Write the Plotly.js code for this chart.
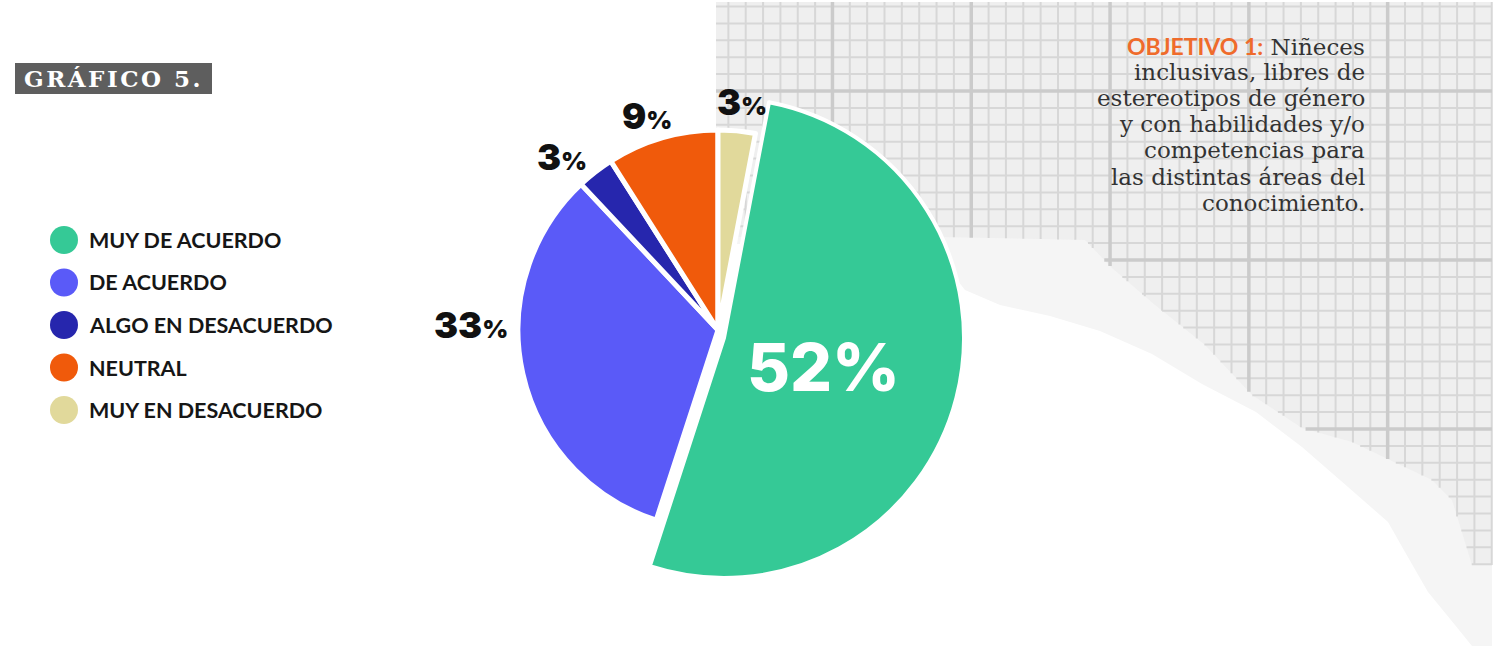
<!DOCTYPE html>
<html><head><meta charset="utf-8">
<script src="https://cdn.plot.ly/plotly-3.0.1.min.js"></script>
<style>html,body{margin:0;padding:0;background:#fff}#chart{width:1500px;height:646px}</style>
</head><body><div id="chart"></div>
<script>
// ---- data ----
const categories = ["MUY DE ACUERDO", "DE ACUERDO", "ALGO EN DESACUERDO", "NEUTRAL", "MUY EN DESACUERDO"];
const percentages = [52, 33, 3, 9, 3];
const sliceColors = ["#35c996", "#5a5af8", "#2626ad", "#f05a0b", "#e1d99b"];
const chartTitle = "GRÁFICO 5.";
const objectiveLabel = "OBJETIVO 1:";
const objectiveLines = ["Niñeces", "inclusivas, libres de", "estereotipos de género", "y con habilidades y/o", "competencias para", "las distintas áreas del", "conocimiento."];
const highlightIndex = 0;

// ---- layout helpers (positions, not data) ----
const W = 1500, H = 646;
const px = x => x / W, py = y => 1 - y / H;
const total = percentages.reduce((a, b) => a + b, 0);
const rotation = percentages[percentages.length - 1] / total * 360;
const labelAnchors = [[823, 367], [471, 325], [562, 157], [647, 116], [742, 102]];

// ---- background torn grid paper ----
const paperPoly = [[716,2],[1492,2],[1492,646],[1472,646],[1455,625],[1428,592],[1405,552],[1388,522],[1348,487],[1302,447],[1256,412],[1202,384],[1152,354],[1100,331],[1050,316],[1000,305],[965,290],[940,258],[900,244],[716,244]];
const gridPoly = [[716,2],[1492,2],[1492,565],[1472,565],[1452,500],[1432,480],[1352,442],[1302,428],[1252,395],[1205,345],[1155,305],[1112,268],[1085,240],[940,237],[716,237]];
function polyPath(poly){ return poly.map((p,i)=>(i?'L':'M')+px(p[0]).toFixed(5)+','+py(p[1]).toFixed(5)).join(' ')+' Z'; }
function clip(poly, vertical, c){
  const hits=[];
  for(let i=0;i<poly.length;i++){
    const p=poly[i], q=poly[(i+1)%poly.length];
    const pc=vertical?p[0]:p[1], qc=vertical?q[0]:q[1];
    if((pc<=c&&qc>c)||(qc<=c&&pc>c)){
      const t=(c-pc)/(qc-pc);
      hits.push(vertical? p[1]+t*(q[1]-p[1]) : p[0]+t*(q[0]-p[0]));
    }
  }
  hits.sort((a,b)=>a-b);
  const segs=[]; for(let i=0;i+1<hits.length;i+=2) segs.push([hits[i],hits[i+1]]);
  return segs;
}
let minorPath='', majorPath='';
for(let k=0;;k++){
  const x=711+k*17.35; if(x>1492) break;
  clip(gridPoly,true,x).forEach(s=>{ const d='M'+px(x).toFixed(5)+','+py(s[0]).toFixed(5)+' L'+px(x).toFixed(5)+','+py(s[1]).toFixed(5)+' ';
    if(k%8===7) majorPath+=d; else minorPath+=d; });
}
for(let k=0;;k++){
  const y=6.5+k*16.9; if(y>646) break;
  clip(gridPoly,false,y).forEach(s=>{ const d='M'+px(s[0]).toFixed(5)+','+py(y).toFixed(5)+' L'+px(s[1]).toFixed(5)+','+py(y).toFixed(5)+' ';
    if(k%10===5) majorPath+=d; else minorPath+=d; });
}

const shapes = [
  {type:'path', xref:'paper', yref:'paper', layer:'below', path:polyPath(paperPoly), fillcolor:'#f5f5f5', line:{width:0}},
  {type:'path', xref:'paper', yref:'paper', layer:'below', path:polyPath(gridPoly), fillcolor:'#efefef', line:{width:0}},
  {type:'path', xref:'paper', yref:'paper', layer:'below', path:minorPath, line:{color:'#d7d7d7', width:2}},
  {type:'path', xref:'paper', yref:'paper', layer:'below', path:majorPath, line:{color:'#cbcbcb', width:3.5}},
  {type:'rect', xref:'paper', yref:'paper', layer:'below', x0:px(15), x1:px(212), y0:py(94), y1:py(63), fillcolor:'#5e5e5e', line:{width:0}}
];

const annotations = [
  {xref:'paper', yref:'paper', x:px(113.5), y:py(79), xanchor:'center', yanchor:'middle', showarrow:false,
   text:'<b><span style="letter-spacing:2.5px">'+chartTitle+'</span></b>', font:{family:'DejaVu Serif', size:23, color:'#ffffff'}}
];
// objective text, right aligned, one annotation per line
objectiveLines.forEach((line,i)=>{
  const txt = i===0 ? '<span style="font-family:Lato;font-weight:bold;font-size:23px;color:#ef6b2b">'+objectiveLabel+'</span> '+line : line;
  annotations.push({xref:'paper', yref:'paper', x:px(1367), y:py(46+26.1*i), xanchor:'right', yanchor:'middle', align:'right', showarrow:false,
    text:txt, font:{family:'DejaVu Serif', size:23, color:'#333333'}});
});

// legend (custom, circle markers)
const legendY = [240, 282.5, 325, 367.5, 410];
categories.forEach((c,i)=>{
  shapes.push({type:'circle', xref:'paper', yref:'paper', layer:'above', x0:px(50), x1:px(78), y0:py(legendY[i]+14), y1:py(legendY[i]-14), fillcolor:sliceColors[i], line:{width:0}});
  annotations.push({xref:'paper', yref:'paper', x:px(87), y:py(legendY[i]), xanchor:'left', yanchor:'middle', showarrow:false,
    text:c, font:{family:'Lato', size:21.5, color:'#161616', weight:700}});
});

// slice value labels
percentages.forEach((v,i)=>{
  const big = i===highlightIndex;
  annotations.push({xref:'paper', yref:'paper', x:px(labelAnchors[i][0]), y:py(labelAnchors[i][1]), xanchor:'center', yanchor:'middle', showarrow:false,
    text: big ? v+'%' : v+'<span style="font-size:25px">%</span>',
    font: big ? {family:'Inter', size:66, color:'#ffffff', weight:800} : {family:'Inter', size:36, color:'#111111', weight:900}});
});

const basePie = {
  type:'pie', labels:categories, values:percentages, sort:false, direction:'clockwise', rotation:rotation,
  showlegend:false, hoverinfo:'label+value', textinfo:'none',
  domain:{x:[px(518), px(918)], y:[py(530), py(130)]},
  marker:{colors:sliceColors.map((c,i)=>i===highlightIndex?'rgba(0,0,0,0)':c),
          line:{color:'#ffffff', width:categories.map((c,i)=>i===highlightIndex?0:5)}}
};
const highlightPie = {
  type:'pie', labels:categories, values:percentages, sort:false, direction:'clockwise', rotation:rotation,
  showlegend:false, hoverinfo:'label+value', textinfo:'none',
  domain:{x:[px(484), px(964)], y:[py(578), py(98)]},
  marker:{colors:sliceColors.map((c,i)=>i===highlightIndex?c:'rgba(0,0,0,0)'),
          line:{color:'#ffffff', width:categories.map((c,i)=>i===highlightIndex?4:0)}}
};

Plotly.newPlot('chart', [basePie, highlightPie], {
  width:W, height:H, margin:{l:0, r:0, t:0, b:0},
  paper_bgcolor:'#ffffff', plot_bgcolor:'rgba(0,0,0,0)',
  shapes:shapes, annotations:annotations
}, {displayModeBar:false, staticPlot:true});
</script></body></html>
